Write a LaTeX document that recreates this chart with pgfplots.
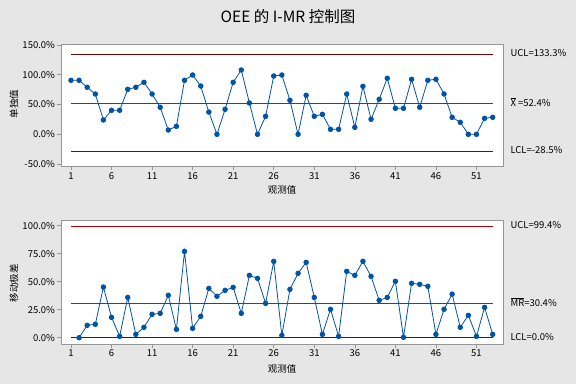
\documentclass[border=0pt]{standalone}
\usepackage{pgfplots}
\pgfplotsset{compat=1.18}
\usepackage{fontspec}
\setmainfont{Noto Sans CJK SC}
\definecolor{bg}{RGB}{230,230,230}
\definecolor{frame}{RGB}{150,150,150}
\definecolor{pt}{RGB}{0,84,166}
\definecolor{dred}{RGB}{115,10,10}
\definecolor{bred}{RGB}{185,0,0}
\definecolor{cgreen}{RGB}{0,115,0}
\pgfplotsset{
  myax/.style={
    scale only axis, anchor=south west,
    width=442pt,
    xmin=-0.23, xmax=54.27,
    axis background/.style={fill=white},
    axis line style={frame, line width=0.8pt},
    tick style={frame, line width=0.6pt},
    tick align=outside, major tick length=3.5pt,
    xtick pos=bottom, ytick pos=left,
    xtick={1,6,11,16,21,26,31,36,41,46,51},
    ticklabel style={font=\fontsize{9.5}{10}\selectfont},
    xticklabel style={yshift=1pt},
    yticklabel style={xshift=1pt},
    /pgf/number format/assume math mode=true,
    clip=false,
  },
  dat/.style={pt, line width=0.8pt, mark=*, mark size=2.3pt, mark options={fill=pt, draw=pt}},
}
\begin{document}
\begin{tikzpicture}[x=1pt,y=1pt]
\fill[bg] (0,0) rectangle (576,384);
\node[font=\fontsize{15.5}{17}\selectfont] at (288,367) {OEE 的 I-MR 控制图};
% ---- I chart ----
\begin{axis}[myax, at={(61pt,217.7pt)}, height=122pt,
  ymin=-53.7, ymax=151,
  ytick={-50,0,50,100,150},
  yticklabel={\pgfmathprintnumber[fixed,fixed zerofill,precision=1]{\tick}\%},
]
\addplot[dred, line width=0.9pt] coordinates {(1,133.3) (53,133.3)};
\addplot[cgreen, line width=0.9pt] coordinates {(1,52.4) (53,52.4)};
\addplot[dred, line width=0.9pt] coordinates {(1,-28.5) (53,-28.5)};
\addplot[dat] coordinates {
(1,90.6) (2,90.6) (3,78.9) (4,67.6) (5,24.0) (6,40.3) (7,40.3) (8,75.5) (9,78.9) (10,87.2)
(11,67.6) (12,45.3) (13,7.2) (14,13.4) (15,90.6) (16,99.5) (17,81.0) (18,37.4) (19,0.0) (20,41.9)
(21,87.2) (22,107.9) (23,52.5) (24,0.0) (25,30.2) (26,97.8) (27,99.5) (28,57.0) (29,0.0) (30,65.4)
(31,30.2) (32,33.5) (33,8.4) (34,8.4) (35,67.6) (36,11.7) (37,80.5) (38,25.2) (39,58.7) (40,94.0)
(41,43.6) (42,43.6) (43,92.3) (44,45.3) (45,90.6) (46,92.3) (47,67.6) (48,28.5) (49,20.1) (50,0.0)
(51,0.0) (52,26.8) (53,28.5)};
\end{axis}
% ---- MR chart ----
\begin{axis}[myax, at={(61pt,40pt)}, height=123.3pt,
  ymin=-5.6, ymax=104.5,
  ytick={0,25,50,75,100},
  yticklabel={\pgfmathprintnumber[fixed,fixed zerofill,precision=1]{\tick}\%},
]
\addplot[bred, line width=0.9pt] coordinates {(1,99.4) (53,99.4)};
\addplot[cgreen, line width=0.9pt] coordinates {(1,30.4) (53,30.4)};
\addplot[dred, line width=0.9pt] coordinates {(1,0) (53,0)};
\addplot[dat] coordinates {
(2,0.0) (3,11.1) (4,12.0) (5,45.3) (6,18.2) (7,1.2) (8,36.0) (9,3.0) (10,9.3)
(11,20.9) (12,21.8) (13,37.9) (14,7.5) (15,77.1) (16,8.4) (17,19.1) (18,44.1) (19,37.0) (20,42.3)
(21,45.0) (22,21.8) (23,55.7) (24,53.0) (25,30.7) (26,68.2) (27,2.1) (28,43.2) (29,57.5) (30,67.3)
(31,36.0) (32,3.0) (33,25.4) (34,1.2) (35,59.3) (36,55.7) (37,68.2) (38,54.8) (39,33.4) (40,36.0)
(41,50.4) (42,0.4) (43,48.6) (44,47.7) (45,45.9) (46,3.0) (47,25.4) (48,38.9) (49,9.3) (50,20.0)
(51,1.2) (52,27.1) (53,3.0)};
\end{axis}
% ---- labels ----
\begin{scope}[font=\fontsize{9.5}{10}\selectfont]
\node at (282,194) {观测值};
\node at (282,15) {观测值};
\node[rotate=90] at (14,280) {单独值};
\node[rotate=90] at (14,101) {移动极差};
\node[anchor=west] at (507,331) {UCL=133.3\%};
\node[anchor=west] at (507,282) {$\overline{\mbox{X}}$ =52.4\%};
\node[anchor=west] at (507,234) {LCL=-28.5\%};
\node[anchor=west] at (507,159) {UCL=99.4\%};
\node[anchor=west] at (507,82) {$\overline{\mbox{MR}}$=30.4\%};
\node[anchor=west] at (507,47) {LCL=0.0\%};
\end{scope}
\end{tikzpicture}
\end{document}
